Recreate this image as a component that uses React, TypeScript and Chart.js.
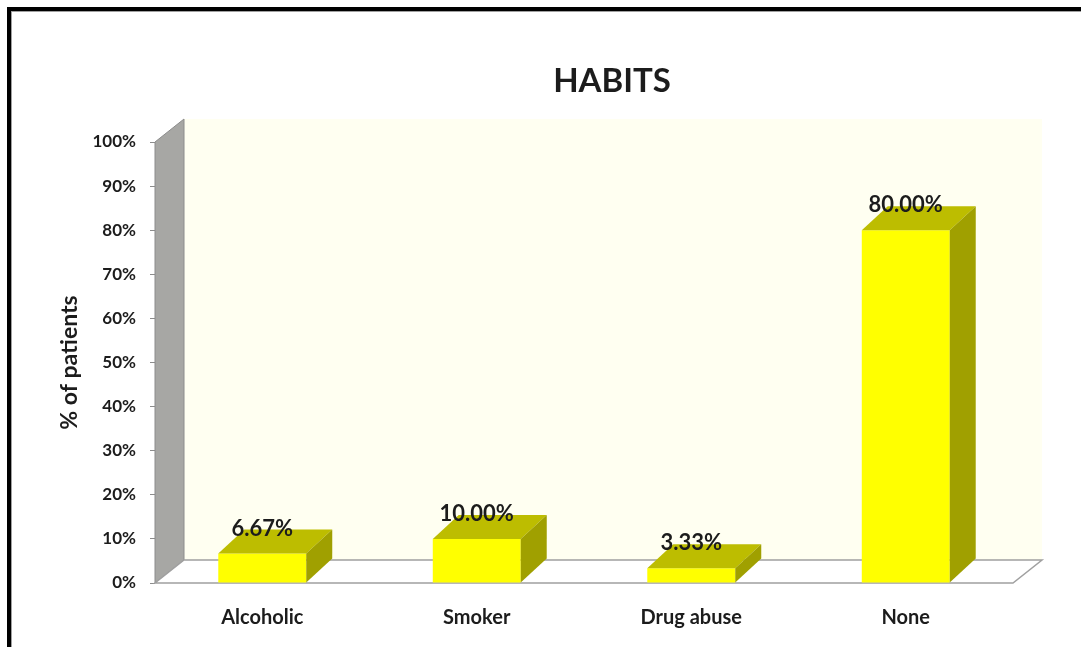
import React, { useEffect, useRef } from "react";
import { Chart, registerables } from "chart.js";

Chart.register(...registerables);

const categories = ["Alcoholic", "Smoker", "Drug abuse", "None"];
const values = [6.67, 10.0, 3.33, 80.0];
const valueLabels = ["6.67%", "10.00%", "3.33%", "80.00%"];
const yMin = 0;
const yMax = 100;
const yStep = 10;
const chartTitle = "HABITS";
const yAxisTitle = "% of patients";

const FONT = "Lato, 'Noto Sans', sans-serif";
const TEXT = "#1c1c1c";
const WALL_DX = 29;
const WALL_DY = -23;
const BAR_DX = 26;
const BAR_DY = -24;

function poly(ctx: CanvasRenderingContext2D, pts: number[][], fill: string | null, stroke: string | null, lw = 1) {
  ctx.beginPath();
  ctx.moveTo(pts[0][0], pts[0][1]);
  for (let i = 1; i < pts.length; i++) ctx.lineTo(pts[i][0], pts[i][1]);
  ctx.closePath();
  if (fill) {
    ctx.fillStyle = fill;
    ctx.fill();
  }
  if (stroke) {
    ctx.strokeStyle = stroke;
    ctx.lineWidth = lw;
    ctx.stroke();
  }
}

const threeD = {
  id: "threeD",
  beforeDraw(chart: any) {
    const { ctx, width, height } = chart;
    ctx.save();
    ctx.fillStyle = "#ffffff";
    ctx.fillRect(0, 0, width, height);
    ctx.fillStyle = "#000000";
    ctx.fillRect(7, 7, width - 7, 4);
    ctx.fillRect(7, 7, 4, height - 7);
    ctx.fillStyle = "#a0a0a0";
    ctx.fillRect(11, 11, width - 11, 1);
    ctx.fillRect(11, 11, 1, height - 11);
    ctx.restore();
  },
  beforeDatasetsDraw(chart: any) {
    const { ctx, chartArea: a } = chart;
    ctx.save();
    poly(ctx, [
      [a.left + WALL_DX, a.top + WALL_DY],
      [a.right + WALL_DX, a.top + WALL_DY],
      [a.right + WALL_DX, a.bottom + WALL_DY],
      [a.left + WALL_DX, a.bottom + WALL_DY],
    ], "#FFFFF1", null);
    poly(ctx, [
      [a.left, a.top],
      [a.left + WALL_DX, a.top + WALL_DY],
      [a.left + WALL_DX, a.bottom + WALL_DY],
      [a.left, a.bottom],
    ], "#A7A7A4", "#8c8c8c", 1);
    poly(ctx, [
      [a.left, a.bottom],
      [a.left + WALL_DX, a.bottom + WALL_DY],
      [a.right + WALL_DX, a.bottom + WALL_DY],
      [a.right, a.bottom],
    ], "#FFFFFF", "#A0A0A0", 1.5);
    ctx.restore();
  },
  afterDatasetsDraw(chart: any) {
    const { ctx } = chart;
    const meta = chart.getDatasetMeta(0);
    ctx.save();
    meta.data.forEach((bar: any, i: number) => {
      const { x, y, base, width } = bar.getProps(["x", "y", "base", "width"], true);
      const l = x - width / 2;
      const r = x + width / 2;
      poly(ctx, [
        [l, y],
        [l + BAR_DX, y + BAR_DY],
        [r + BAR_DX, y + BAR_DY],
        [r, y],
      ], "#BDBD00", null);
      poly(ctx, [
        [r, y],
        [r + BAR_DX, y + BAR_DY],
        [r + BAR_DX, base + BAR_DY],
        [r, base],
      ], "#A0A000", null);
      ctx.fillStyle = TEXT;
      ctx.font = `bold 22px ${FONT}`;
      ctx.textAlign = "center";
      ctx.textBaseline = "middle";
      ctx.fillText(valueLabels[i], x, y - 25);
    });
    ctx.restore();
  },
  afterDraw(chart: any) {
    const { ctx } = chart;
    ctx.save();
    ctx.fillStyle = TEXT;
    ctx.font = `bold 33px ${FONT}`;
    ctx.textAlign = "center";
    ctx.textBaseline = "middle";
    ctx.fillText(chartTitle, 612, 81);
    ctx.restore();
  },
};

export default function App() {
  const ref = useRef<HTMLCanvasElement | null>(null);
  useEffect(() => {
    if (!ref.current) return;
    const chart = new Chart(ref.current, {
      type: "bar",
      data: {
        labels: categories,
        datasets: [
          {
            data: values,
            backgroundColor: "#FFFF00",
            borderWidth: 0,
            barPercentage: 0.41,
            categoryPercentage: 1,
          },
        ],
      },
      options: {
        responsive: false,
        animation: false,
        devicePixelRatio: 1,
        layout: { padding: { left: 0, right: 68, top: 142, bottom: 0 } },
        plugins: {
          legend: { display: false },
          tooltip: { enabled: false },
          title: { display: false },
        },
        scales: {
          x: {
            grid: { display: false },
            border: { display: false },
            ticks: {
              color: TEXT,
              font: { family: FONT, size: 20, weight: "bold" },
              padding: 15,
              maxRotation: 0,
            },
            afterFit: (scale: any) => {
              scale.height = 64;
            },
          },
          y: {
            min: yMin,
            max: yMax,
            grid: {
              display: true,
              drawOnChartArea: false,
              drawTicks: true,
              tickLength: 5,
              color: "#8c8c8c",
            },
            border: { display: false },
            ticks: {
              stepSize: yStep,
              color: TEXT,
              font: { family: FONT, size: 17, weight: "bold" },
              padding: 14,
              callback: (v: any) => `${v}%`,
            },
            title: {
              display: true,
              text: yAxisTitle,
              color: TEXT,
              font: { family: FONT, size: 23, weight: "bold" },
              padding: { top: 56, bottom: 0 },
            },
            afterFit: (scale: any) => {
              scale.width = 155;
            },
          },
        },
      },
      plugins: [threeD],
    });
    return () => chart.destroy();
  }, []);
  return (
    <canvas
      ref={ref}
      width={1081}
      height={647}
      style={{ position: "fixed", left: 0, top: 0, width: 1081, height: 647 }}
    />
  );
}
